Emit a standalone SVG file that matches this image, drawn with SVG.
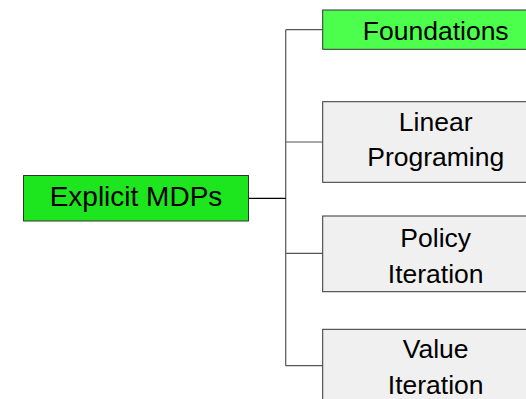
<svg xmlns="http://www.w3.org/2000/svg" width="526" height="399" viewBox="0 0 526 399">
<style>
.box{stroke:#333;stroke-width:1}
.t{font-family:"Liberation Sans",Arial,sans-serif;font-size:26.5px;fill:#000;text-anchor:middle}
.c{fill:none;stroke:#555;stroke-width:1.2}
</style>
<rect width="526" height="399" fill="#fff"/>
<g id="connectors">
<path class="c" d="M285.7,29.7 V365.7 M285.7,29.7 H322.7 M285.7,142 H322.7 M285.7,253.3 H322.7 M285.7,365.7 H322.7"/>
<path d="M248.7,198.3 H285.7" fill="none" stroke="#000" stroke-width="1.2"/>
</g>
<g id="root">
<rect class="box" x="23.5" y="175.5" width="225" height="45.5" fill="#1ee61e"/>
<text class="t" x="136" y="205.5" style="font-size:28px">Explicit MDPs</text>
</g>
<g id="foundations">
<rect class="box" x="322.7" y="10" width="226" height="39.3" fill="#4cff4c"/>
<text class="t" x="435.7" y="40">Foundations</text>
</g>
<g id="linear">
<rect class="box" x="322.7" y="101.7" width="226" height="80.6" fill="#f0f0f0"/>
<text class="t" x="435.7" y="130.7">Linear</text>
<text class="t" x="435.7" y="165.7">Programing</text>
</g>
<g id="policy">
<rect class="box" x="322.7" y="216" width="226" height="75.7" fill="#f0f0f0"/>
<text class="t" x="435.7" y="246.7">Policy</text>
<text class="t" x="435.7" y="283.3">Iteration</text>
</g>
<g id="value">
<rect class="box" x="322.7" y="329.3" width="226" height="80" fill="#f0f0f0"/>
<text class="t" x="435.7" y="357.7">Value</text>
<text class="t" x="435.7" y="394">Iteration</text>
</g>
</svg>
